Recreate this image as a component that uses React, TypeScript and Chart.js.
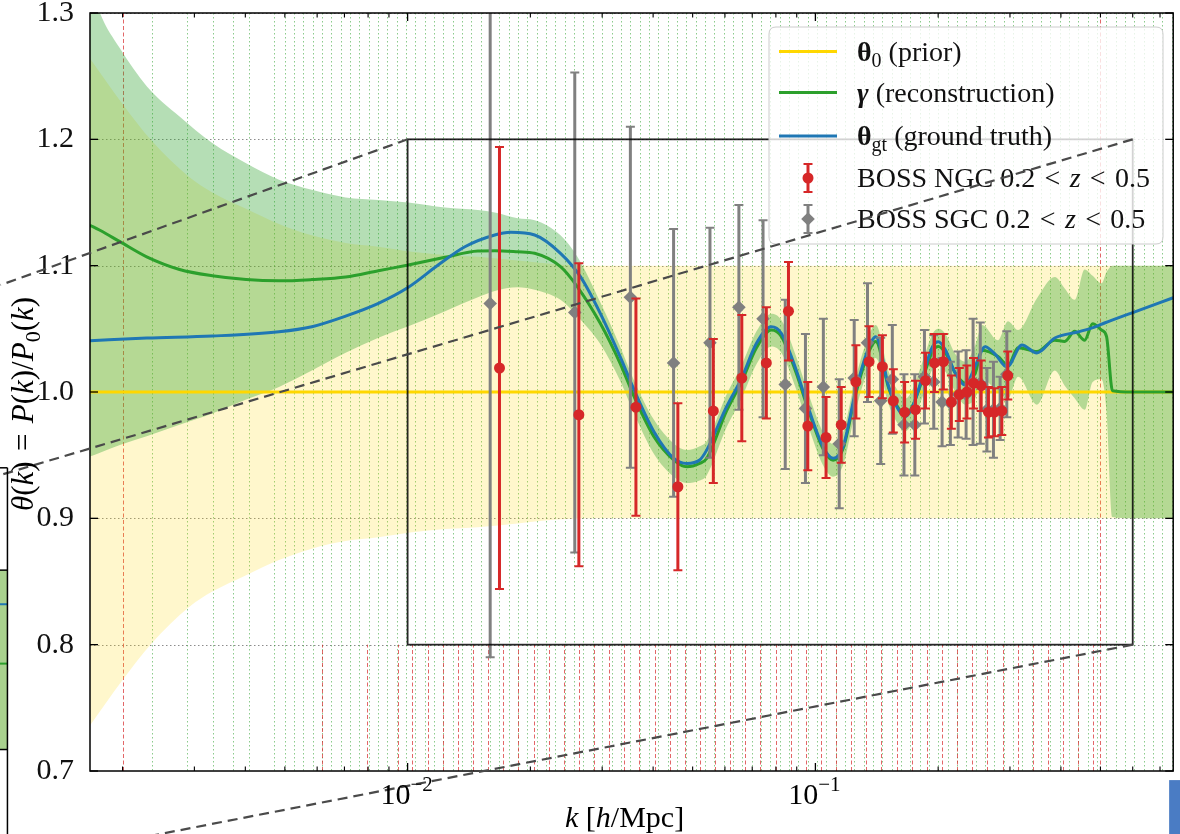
import React, { useEffect, useRef } from 'react';
import { Chart, registerables } from 'chart.js';

Chart.register(...registerables);

const SERIF = '"Liberation Serif", "Times New Roman", Times, serif';

// ---------------- axes ----------------
const K_MIN = 0.001664;
const K_MAX = 0.7541;
const Y_MIN = 0.7;
const Y_MAX = 1.3;
const Y_TICKS = [0.7, 0.8, 0.9, 1.0, 1.1, 1.2, 1.3];
const X_MAJOR_TICKS = [0.01, 0.1];
const X_MAJOR_EXPONENTS = ['\u22122', '\u22121'];
const X_MINOR_TICKS = [0.002, 0.003, 0.004, 0.005, 0.006, 0.007, 0.008, 0.009, 0.02, 0.03, 0.04, 0.05, 0.06, 0.07, 0.08, 0.09, 0.2, 0.3, 0.4, 0.5, 0.6, 0.7];

// ---------------- prior theta_0 ----------------
const PRIOR_LINE_K = [K_MIN, K_MAX];
const PRIOR_LINE = [1.0, 1.0];
const PRIOR_K = [0.001664, 0.002, 0.002355, 0.002918, 0.00332, 0.004018, 0.004837, 0.005823, 0.007047, 0.008481, 0.01025, 0.01236, 0.01487, 0.01862, 0.02331, 0.02918, 0.7541];
const PRIOR_LO = [0.736, 0.772, 0.801, 0.83, 0.842, 0.855, 0.867, 0.876, 0.882, 0.885, 0.889, 0.8915, 0.893, 0.896, 0.899, 0.9, 0.9];
const PRIOR_HI = [1.264, 1.228, 1.199, 1.17, 1.158, 1.145, 1.133, 1.124, 1.118, 1.115, 1.111, 1.1085, 1.107, 1.104, 1.101, 1.1, 1.1];

// ---------------- reconstruction gamma ----------------
const RECON_K = [0.001664, 0.00176, 0.00197, 0.002292, 0.002759, 0.00332, 0.004018, 0.004837, 0.005823, 0.007047,
  0.008481, 0.01004, 0.01236, 0.01487, 0.01636, 0.01862, 0.02049, 0.02371, 0.02608, 0.02968,
  0.0332, 0.03593, 0.04019, 0.04497, 0.04837, 0.05203, 0.05412, 0.06056, 0.0659, 0.0717,
  0.07798, 0.08249, 0.08973, 0.09652, 0.1044, 0.1105, 0.1169, 0.1257, 0.1345, 0.1406,
  0.1513, 0.16, 0.1664, 0.1731, 0.1831, 0.1937, 0.2003, 0.2084, 0.2204, 0.2331,
  0.2466, 0.2564, 0.2805, 0.2968, 0.314, 0.3492, 0.3864, 0.4087, 0.4324, 0.4574,
  0.4785, 0.5031, 0.5175, 0.5353, 0.5955, 0.7541];
const RECON_MEAN = [1.132, 1.128, 1.119, 1.107, 1.097, 1.092, 1.089, 1.088, 1.089, 1.091,
  1.096, 1.1005, 1.1066, 1.1116, 1.1118, 1.111, 1.1098, 1.0992, 1.0833, 1.0544,
  1.0227, 0.9963, 0.9646, 0.9461, 0.9408, 0.9435, 0.9474, 0.985, 1.008, 1.035,
  1.049, 1.044, 1.015, 0.984, 0.955, 0.946, 0.955, 0.999, 1.03, 1.04,
  1.003, 0.987, 0.982, 0.989, 1.01, 1.032, 1.036, 1.031, 1.015, 1.007,
  1.015, 1.033, 1.028, 1.021, 1.035, 1.032, 1.041, 1.04, 1.048, 1.041,
  1.054, 1.049, 1.044, 1.001, 1.0, 1.0];
const RECON_LO = [0.949, 0.952, 0.958, 0.965, 0.974, 0.983, 0.994, 1.004, 1.017, 1.031,
  1.043, 1.052, 1.064, 1.075, 1.08, 1.083, 1.081, 1.073, 1.06, 1.038,
  1.009, 0.983, 0.951, 0.933, 0.928, 0.93, 0.934, 0.972, 0.995, 1.022,
  1.036, 1.031, 1.002, 0.971, 0.942, 0.933, 0.942, 0.986, 1.017, 1.027,
  0.99, 0.974, 0.969, 0.976, 0.996, 1.018, 1.022, 1.016, 1.0, 0.99,
  0.995, 1.01, 1.0, 0.995, 1.012, 0.99, 1.017, 1.005, 0.995, 0.986,
  1.008, 1.01, 0.985, 0.901, 0.9, 0.9];
const RECON_HI = [1.325, 1.3, 1.272, 1.242, 1.218, 1.197, 1.181, 1.168, 1.16, 1.154,
  1.152, 1.15, 1.146, 1.144, 1.142, 1.1375, 1.136, 1.124, 1.107, 1.071,
  1.036, 1.009, 0.978, 0.959, 0.954, 0.957, 0.961, 0.998, 1.021, 1.048,
  1.062, 1.057, 1.028, 0.997, 0.968, 0.959, 0.968, 1.012, 1.043, 1.053,
  1.016, 1.0, 0.995, 1.002, 1.024, 1.046, 1.05, 1.046, 1.03, 1.024,
  1.037, 1.053, 1.041, 1.056, 1.049, 1.074, 1.091, 1.082, 1.073, 1.097,
  1.092, 1.086, 1.095, 1.1, 1.1, 1.1];

// ---------------- ground truth theta_gt ----------------
const TRUTH_K = [0.001664, 0.002292, 0.00332, 0.004837, 0.005823, 0.007047, 0.008481, 0.01004, 0.01188, 0.01382,
  0.01636, 0.0179, 0.02049, 0.02371, 0.02653, 0.02968, 0.0332, 0.03593, 0.04019, 0.04497,
  0.04837, 0.05203, 0.05412, 0.06056, 0.0659, 0.0717, 0.07798, 0.08249, 0.08973, 0.09652,
  0.1044, 0.1105, 0.1169, 0.1257, 0.1345, 0.1406, 0.1513, 0.16, 0.1664, 0.1731,
  0.1831, 0.1937, 0.2003, 0.2084, 0.2204, 0.2331, 0.2466, 0.2608, 0.2759, 0.2951,
  0.321, 0.3492, 0.3864, 0.4397, 0.4838, 0.5117, 0.5955, 0.7541];
const TRUTH = [1.0406, 1.0427, 1.0443, 1.0477, 1.0517, 1.0601, 1.0702, 1.0829, 1.1005, 1.115,
  1.1243, 1.1264, 1.1243, 1.1098, 1.0913, 1.0623, 1.028, 1.0016, 0.9686, 0.9475,
  0.9435, 0.9462, 0.954, 0.9884, 1.0108, 1.0385, 1.0517, 1.0465, 1.0174, 0.9857,
  0.9567, 0.9475, 0.9567, 1.0016, 1.0332, 1.0438, 1.0042, 0.9857, 0.9805, 0.9884,
  1.0121, 1.0359, 1.0398, 1.0332, 1.0148, 1.0055, 1.0206, 1.0359, 1.03, 1.0198,
  1.0372, 1.0309, 1.0427, 1.0475, 1.0514, 1.0546, 1.0625, 1.0746];

// ---------------- BOSS data ----------------
const NGC_K = [0.0168, 0.0263, 0.0363, 0.046, 0.0562, 0.066, 0.0758, 0.0859, 0.0958, 0.1062,
  0.1157, 0.1257, 0.1354, 0.146, 0.1553, 0.1655, 0.176, 0.1862, 0.1959, 0.206,
  0.2155, 0.2254, 0.2353, 0.2442, 0.255, 0.2657, 0.2748, 0.2865, 0.2963];
const NGC_VAL = [1.019, 0.982, 0.988, 0.925, 0.985, 1.011, 1.023, 1.064, 0.973, 0.964,
  0.974, 1.008, 1.024, 1.02, 0.993, 0.984, 0.986, 1.009, 1.023, 1.024,
  0.992, 0.998, 1.0, 1.007, 1.005, 0.984, 0.984, 0.985, 1.013];
const NGC_ERR = [0.175, 0.12, 0.086, 0.066, 0.057, 0.05, 0.044, 0.039, 0.035, 0.032,
  0.03, 0.029, 0.028, 0.025, 0.025, 0.024, 0.023, 0.022, 0.023, 0.022,
  0.021, 0.021, 0.021, 0.02, 0.02, 0.02, 0.019, 0.019, 0.019];

const SGC_K = [0.01594, 0.0257, 0.03518, 0.0449, 0.05514, 0.06492, 0.07441, 0.08435, 0.09454, 0.1046,
  0.1144, 0.1245, 0.1342, 0.1446, 0.1544, 0.1649, 0.1753, 0.1851, 0.1951, 0.2045,
  0.2143, 0.2239, 0.2342, 0.2436, 0.2537, 0.2634, 0.2733, 0.2838, 0.2947];
const SGC_VAL = [1.07, 1.063, 1.075, 1.023, 1.039, 1.067, 1.058, 1.006, 0.987, 1.004,
  0.959, 1.011, 1.039, 0.993, 1.01, 0.974, 0.974, 1.012, 1.008, 0.992,
  0.991, 0.998, 0.998, 1.008, 1.007, 0.986, 0.986, 0.987, 1.014];
const SGC_ERR = [0.28, 0.19, 0.135, 0.106, 0.091, 0.081, 0.078, 0.067, 0.059, 0.054,
  0.051, 0.046, 0.047, 0.05, 0.043, 0.04, 0.04, 0.037, 0.037, 0.035,
  0.033, 0.034, 0.035, 0.05, 0.048, 0.033, 0.038, 0.025, 0.034];

// ---------------- zoom box and connectors ----------------
const INSET_K = [0.01, 0.6];
const INSET_Y = [0.8, 1.2];
const CONN_FROM_K = [0.01, 0.6, 0.6];
const CONN_FROM_Y = [1.2, 1.2, 0.8];
const CONN_TO_K = [0.001004, 0.001004, 0.001004];
const CONN_TO_Y = [1.0847, 0.9343, 0.6255];

// ---------------- k-bin guide lines ----------------
const GREEN_GRID_LOW = [0.002355, 0.002884, 0.00333, 0.003723, 0.004078, 0.00471];
const GREEN_GRID_LOG_START = 0.004995;
const GREEN_GRID_LOG_STEP = 0.0229;
const RED_GRID_FULL = [0.002, 0.5];
const RED_GRID_SHORT_LOW = [0.00615, 0.00794, 0.00945];
const RED_GRID_LOG_START = 0.01028;
const RED_GRID_LOG_STEP = 0.0371;
const RED_GRID_LOG_END = 0.5;
const RED_SHORT_RANGE = [0.7, 0.8];

// fragments of the neighbouring (cropped) panels, in this panel's data coordinates
const LEFT_PANEL_K = 0.001044;
const LEFT_PANEL_TOP = 0.94;
const LEFT_PANEL_FILL = [0.717, 0.859];
const LEFT_PANEL_BLUE = 0.832;
const LEFT_PANEL_GREEN = 0.785;
const RIGHT_FRAGMENT_K = 0.737;
const RIGHT_FRAGMENT_TOP = 0.6928;

function logSeq(start: number, step: number, end: number) {
  const out: number[] = [];
  for (let i = 0; i < 500; i++) {
    const k = start * Math.pow(10, step * i);
    if (k > end) break;
    out.push(k);
  }
  return out;
}
const GREEN_GRID = [...GREEN_GRID_LOW, ...logSeq(GREEN_GRID_LOG_START, GREEN_GRID_LOG_STEP, K_MAX)];
const RED_GRID_SHORT = [...RED_GRID_SHORT_LOW, ...logSeq(RED_GRID_LOG_START, RED_GRID_LOG_STEP, RED_GRID_LOG_END)];

const RED = '#d62728';
const GREEN = '#2ca02c';
const BLUE = '#1f77b4';
const GOLD = '#ffd700';
const GRAY = '#808080';

const ERRORBARS: Record<string, { k: number[]; v: number[]; e: number[]; color: string }> = {
  'BOSS NGC': { k: NGC_K, v: NGC_VAL, e: NGC_ERR, color: RED },
  'BOSS SGC': { k: SGC_K, v: SGC_VAL, e: SGC_ERR, color: GRAY },
};

type Seg = { t: string; it?: boolean; bd?: boolean; sub?: boolean; sup?: boolean };

function fontFor(s: Seg, size: number) {
  const sz = s.sub || s.sup ? Math.round(size * 0.7) : size;
  return `${s.it ? 'italic ' : ''}${s.bd ? 'bold ' : ''}${sz}px ${SERIF}`;
}
function richWidth(ctx: CanvasRenderingContext2D, segs: Seg[], size: number) {
  let w = 0;
  for (const s of segs) {
    ctx.font = fontFor(s, size);
    w += ctx.measureText(s.t).width;
  }
  return w;
}
function drawRich(ctx: CanvasRenderingContext2D, segs: Seg[], x: number, y: number, size: number, align: 'left' | 'center' | 'right', color = '#000') {
  const w = richWidth(ctx, segs, size);
  let cx = align === 'left' ? x : align === 'center' ? x - w / 2 : x - w;
  ctx.textAlign = 'left';
  ctx.textBaseline = 'alphabetic';
  ctx.fillStyle = color;
  for (const s of segs) {
    ctx.font = fontFor(s, size);
    const dy = s.sub ? size * 0.22 : s.sup ? -size * 0.42 : 0;
    ctx.fillText(s.t, cx, y + dy);
    cx += ctx.measureText(s.t).width;
  }
}
function seg(ctx: CanvasRenderingContext2D, x1: number, y1: number, x2: number, y2: number) {
  ctx.beginPath();
  ctx.moveTo(x1, y1);
  ctx.lineTo(x2, y2);
  ctx.stroke();
}

const SP = '\u2004';
const LEGEND_ITEMS: { kind: 'line' | 'err'; color: string; marker?: 'circle' | 'diamond'; segs: Seg[] }[] = [
  { kind: 'line', color: GOLD, segs: [{ t: '\u03B8', bd: true }, { t: '0', sub: true }, { t: ' (prior)' }] },
  { kind: 'line', color: GREEN, segs: [{ t: '\u03B3', bd: true, it: true }, { t: ' (reconstruction)' }] },
  { kind: 'line', color: BLUE, segs: [{ t: '\u03B8', bd: true }, { t: 'gt', sub: true }, { t: ' (ground truth)' }] },
  { kind: 'err', color: RED, marker: 'circle', segs: [{ t: `BOSS NGC 0.2${SP}<${SP}` }, { t: 'z', it: true }, { t: `${SP}<${SP}0.5` }] },
  { kind: 'err', color: GRAY, marker: 'diamond', segs: [{ t: `BOSS SGC 0.2${SP}<${SP}` }, { t: 'z', it: true }, { t: `${SP}<${SP}0.5` }] },
];

function drawMarker(ctx: CanvasRenderingContext2D, kind: string, x: number, y: number, color: string) {
  ctx.fillStyle = color;
  ctx.beginPath();
  if (kind === 'circle') {
    ctx.arc(x, y, 5.5, 0, Math.PI * 2);
  } else {
    const r = 6.8;
    ctx.moveTo(x - r, y);
    ctx.lineTo(x, y - r);
    ctx.lineTo(x + r, y);
    ctx.lineTo(x, y + r);
    ctx.closePath();
  }
  ctx.fill();
}

function drawErrBar(ctx: CanvasRenderingContext2D, x: number, yTop: number, yBot: number, color: string) {
  ctx.strokeStyle = color;
  ctx.lineWidth = 3;
  seg(ctx, x, yTop, x, yBot);
  ctx.lineWidth = 2;
  seg(ctx, x - 4.5, yTop, x + 4.5, yTop);
  seg(ctx, x - 4.5, yBot, x + 4.5, yBot);
}

function drawLegend(ctx: CanvasRenderingContext2D) {
  const bx = 769, by = 27, bw = 394, bh = 217, r = 7;
  ctx.save();
  ctx.setLineDash([]);
  ctx.beginPath();
  ctx.moveTo(bx + r, by);
  ctx.lineTo(bx + bw - r, by);
  ctx.quadraticCurveTo(bx + bw, by, bx + bw, by + r);
  ctx.lineTo(bx + bw, by + bh - r);
  ctx.quadraticCurveTo(bx + bw, by + bh, bx + bw - r, by + bh);
  ctx.lineTo(bx + r, by + bh);
  ctx.quadraticCurveTo(bx, by + bh, bx, by + bh - r);
  ctx.lineTo(bx, by + r);
  ctx.quadraticCurveTo(bx, by, bx + r, by);
  ctx.closePath();
  ctx.fillStyle = 'rgba(255,255,255,0.8)';
  ctx.fill();
  ctx.strokeStyle = 'rgba(204,204,204,1)';
  ctx.lineWidth = 1;
  ctx.stroke();
  const rows = [51.5, 92.5, 136, 178, 219];
  LEGEND_ITEMS.forEach((it, i) => {
    const yy = rows[i];
    if (it.kind === 'line') {
      ctx.strokeStyle = it.color;
      ctx.lineWidth = 3;
      seg(ctx, 779, yy, 837, yy);
    } else {
      drawErrBar(ctx, 808, yy - 14, yy + 14, it.color);
      drawMarker(ctx, it.marker!, 808, yy, it.color);
    }
    drawRich(ctx, it.segs, 857, yy + 9, 28, 'left', '#111');
  });
  ctx.restore();
}

const decorPlugin = {
  id: 'decor',
  beforeDatasetsDraw(chart: any) {
    const { ctx, chartArea: a } = chart;
    const xs = chart.scales.x, ys = chart.scales.y;
    ctx.save();
    ctx.beginPath();
    ctx.rect(a.left, a.top, a.right - a.left, a.bottom - a.top);
    ctx.clip();
    ctx.lineWidth = 1;
    // horizontal grid
    ctx.strokeStyle = 'rgba(0,0,0,0.45)';
    ctx.setLineDash([1.5, 2.5]);
    for (const v of Y_TICKS) {
      const yy = Math.round(ys.getPixelForValue(v)) + 0.5;
      seg(ctx, a.left, yy, a.right, yy);
    }
    // green dotted k-bins
    ctx.strokeStyle = 'rgba(44,160,44,0.55)';
    ctx.setLineDash([1.5, 2.5]);
    for (const k of GREEN_GRID) {
      const xx = Math.round(xs.getPixelForValue(k)) + 0.5;
      seg(ctx, xx, a.top, xx, a.bottom);
    }
    // red dashed
    ctx.strokeStyle = 'rgba(214,39,40,0.7)';
    ctx.setLineDash([4, 2.5]);
    for (const k of RED_GRID_FULL) {
      const xx = Math.round(xs.getPixelForValue(k)) + 0.5;
      seg(ctx, xx, a.top, xx, a.bottom);
    }
    for (const k of RED_GRID_SHORT) {
      const xx = Math.round(xs.getPixelForValue(k)) + 0.5;
      seg(ctx, xx, ys.getPixelForValue(RED_SHORT_RANGE[0]), xx, ys.getPixelForValue(RED_SHORT_RANGE[1]));
    }
    ctx.restore();
  },
  beforeDatasetDraw(chart: any, args: any) {
    const ds = chart.data.datasets[args.index];
    const eb = ERRORBARS[ds.label];
    if (!eb) return;
    const { ctx, chartArea: a } = chart;
    const xs = chart.scales.x, ys = chart.scales.y;
    ctx.save();
    ctx.beginPath();
    ctx.rect(a.left, a.top, a.right - a.left, a.bottom - a.top);
    ctx.clip();
    ctx.setLineDash([]);
    eb.k.forEach((k, i) => {
      const x = xs.getPixelForValue(k);
      drawErrBar(ctx, x, ys.getPixelForValue(eb.v[i] + eb.e[i]), ys.getPixelForValue(eb.v[i] - eb.e[i]), eb.color);
    });
    ctx.restore();
  },
  afterDraw(chart: any) {
    const { ctx, chartArea: a } = chart;
    const xs = chart.scales.x, ys = chart.scales.y;
    const X = (k: number) => xs.getPixelForValue(k);
    const Y = (v: number) => ys.getPixelForValue(v);
    ctx.save();
    ctx.setLineDash([]);
    // zoom box
    ctx.strokeStyle = 'rgba(0,0,0,0.85)';
    ctx.lineWidth = 1.8;
    ctx.strokeRect(X(INSET_K[0]), Y(INSET_Y[1]), X(INSET_K[1]) - X(INSET_K[0]), Y(INSET_Y[0]) - Y(INSET_Y[1]));
    // spines
    ctx.strokeStyle = '#000';
    ctx.lineWidth = 1.5;
    ctx.strokeRect(a.left, a.top, a.right - a.left, a.bottom - a.top);
    // inward ticks
    ctx.lineWidth = 1.3;
    for (const v of Y_TICKS) {
      const yy = Y(v);
      seg(ctx, a.left, yy, a.left + 8, yy);
      seg(ctx, a.right - 8, yy, a.right, yy);
    }
    for (const k of X_MAJOR_TICKS) {
      const xx = X(k);
      seg(ctx, xx, a.bottom, xx, a.bottom - 8);
      seg(ctx, xx, a.top, xx, a.top + 8);
    }
    ctx.lineWidth = 1.1;
    for (const k of X_MINOR_TICKS) {
      if (k < K_MIN || k > K_MAX) continue;
      const xx = X(k);
      seg(ctx, xx, a.bottom, xx, a.bottom - 4.5);
      seg(ctx, xx, a.top, xx, a.top + 4.5);
    }
    // legend
    drawLegend(ctx);
    // connector lines of the zoom box
    ctx.setLineDash([10, 6]);
    ctx.strokeStyle = '#4a4a4a';
    ctx.lineWidth = 2.2;
    CONN_FROM_K.forEach((k, i) => {
      seg(ctx, X(k), Y(CONN_FROM_Y[i]), X(CONN_TO_K[i]), Y(CONN_TO_Y[i]));
    });
    ctx.setLineDash([]);
    // x tick labels
    X_MAJOR_TICKS.forEach((k, i) => {
      drawRich(ctx, [{ t: '10' }, { t: X_MAJOR_EXPONENTS[i], sup: true }], X(k) - 1, 804, 30, 'center');
    });
    // x title
    drawRich(ctx, [{ t: 'k', it: true }, { t: ' [' }, { t: 'h', it: true }, { t: '/Mpc]' }], (a.left + a.right) / 2 - 7, 827, 30, 'center');
    // y title
    ctx.save();
    ctx.translate(23, 404);
    ctx.rotate(-Math.PI / 2);
    drawRich(ctx, [
      { t: '\u03B8', it: true }, { t: '(' }, { t: 'k', it: true }, { t: `)${SP}=${SP}` },
      { t: 'P', it: true }, { t: '(' }, { t: 'k', it: true }, { t: ')/' },
      { t: 'P', it: true }, { t: '0', sub: true }, { t: '(' }, { t: 'k', it: true }, { t: ')' },
    ], 0, 10, 31, 'center');
    ctx.restore();
    // cropped neighbouring panel on the left
    const lx = X(LEFT_PANEL_K);
    ctx.fillStyle = '#a9d18e';
    ctx.fillRect(0, Y(LEFT_PANEL_FILL[1]), lx, Y(LEFT_PANEL_FILL[0]) - Y(LEFT_PANEL_FILL[1]));
    ctx.lineWidth = 2;
    ctx.strokeStyle = BLUE;
    seg(ctx, 0, Y(LEFT_PANEL_BLUE), lx, Y(LEFT_PANEL_BLUE));
    ctx.strokeStyle = GREEN;
    seg(ctx, 0, Y(LEFT_PANEL_GREEN), lx, Y(LEFT_PANEL_GREEN));
    ctx.strokeStyle = '#000';
    ctx.lineWidth = 1.5;
    seg(ctx, lx, Y(LEFT_PANEL_TOP), lx, chart.height);
    seg(ctx, 0, Y(LEFT_PANEL_TOP), lx, Y(LEFT_PANEL_TOP));
    seg(ctx, 0, Y(LEFT_PANEL_FILL[1]), lx, Y(LEFT_PANEL_FILL[1]));
    seg(ctx, 0, Y(LEFT_PANEL_FILL[0]), lx, Y(LEFT_PANEL_FILL[0]));
    // cropped neighbouring element at bottom right
    ctx.fillStyle = '#4a7cc4';
    ctx.fillRect(X(RIGHT_FRAGMENT_K), Y(RIGHT_FRAGMENT_TOP), chart.width - X(RIGHT_FRAGMENT_K), chart.height - Y(RIGHT_FRAGMENT_TOP));
    ctx.restore();
  },
};

const pts = (ks: number[], vs: number[]) => ks.map((k, i) => ({ x: k, y: vs[i] }));

export default function App() {
  const ref = useRef<HTMLCanvasElement>(null);
  useEffect(() => {
    const canvas = ref.current!;
    const lineBase = { pointRadius: 0, cubicInterpolationMode: 'monotone' as const };
    const chart = new Chart(canvas, {
      type: 'line',
      data: {
        datasets: [
          { type: 'line', label: 'priorHi', data: pts(PRIOR_K, PRIOR_HI), ...lineBase, borderWidth: 0, borderColor: 'rgba(0,0,0,0)', backgroundColor: 'rgba(255,215,0,0.2)', fill: '+1', order: 20 },
          { type: 'line', label: 'priorLo', data: pts(PRIOR_K, PRIOR_LO), ...lineBase, borderWidth: 0, borderColor: 'rgba(0,0,0,0)', fill: false, order: 19 },
          { type: 'line', label: 'reconHi', data: pts(RECON_K, RECON_HI), ...lineBase, borderWidth: 0, borderColor: 'rgba(0,0,0,0)', backgroundColor: 'rgba(44,160,44,0.35)', fill: '+1', order: 18 },
          { type: 'line', label: 'reconLo', data: pts(RECON_K, RECON_LO), ...lineBase, borderWidth: 0, borderColor: 'rgba(0,0,0,0)', fill: false, order: 17 },
          { type: 'line', label: 'prior', data: pts(PRIOR_LINE_K, PRIOR_LINE), ...lineBase, borderWidth: 3, borderColor: GOLD, fill: false, order: 16 },
          { type: 'line', label: 'reconstruction', data: pts(RECON_K, RECON_MEAN), ...lineBase, borderWidth: 3, borderColor: GREEN, fill: false, order: 15 },
          { type: 'line', label: 'ground truth', data: pts(TRUTH_K, TRUTH), ...lineBase, borderWidth: 3, borderColor: BLUE, fill: false, order: 14 },
          { type: 'scatter', label: 'BOSS SGC', data: pts(SGC_K, SGC_VAL), pointStyle: 'rectRot', pointRadius: 6.8, backgroundColor: GRAY, borderColor: GRAY, borderWidth: 0, order: 13 },
          { type: 'scatter', label: 'BOSS NGC', data: pts(NGC_K, NGC_VAL), pointStyle: 'circle', pointRadius: 5.5, backgroundColor: RED, borderColor: RED, borderWidth: 0, order: 12 },
        ] as any,
      },
      options: {
        responsive: false,
        devicePixelRatio: 1,
        animation: false,
        events: [],
        layout: { padding: { left: 0, top: 13, right: 1, bottom: 0 } },
        plugins: { legend: { display: false }, tooltip: { enabled: false } },
        scales: {
          x: {
            type: 'logarithmic',
            min: K_MIN,
            max: K_MAX,
            ticks: { display: false },
            grid: { display: false },
            border: { display: false },
            afterFit: (s: any) => { s.height = 63; s.paddingLeft = 0; s.paddingRight = 0; },
          },
          y: {
            type: 'linear',
            min: Y_MIN,
            max: Y_MAX,
            afterBuildTicks: (s: any) => { s.ticks = Y_TICKS.map((v) => ({ value: v })); },
            ticks: {
              callback: (v: any) => Number(v).toFixed(1),
              font: { family: SERIF, size: 30 },
              color: '#111',
              padding: 8,
            },
            grid: { display: false },
            border: { display: false },
            afterFit: (s: any) => { s.width = 90; s.paddingTop = 0; s.paddingBottom = 0; },
          },
        },
      } as any,
      plugins: [decorPlugin as any],
    });
    return () => chart.destroy();
  }, []);
  return (
    <div style={{ position: 'fixed', left: 0, top: 0, width: 1180, height: 834, background: '#fff' }}>
      <canvas ref={ref} width={1180} height={834} style={{ display: 'block', width: 1180, height: 834 }} />
    </div>
  );
}
